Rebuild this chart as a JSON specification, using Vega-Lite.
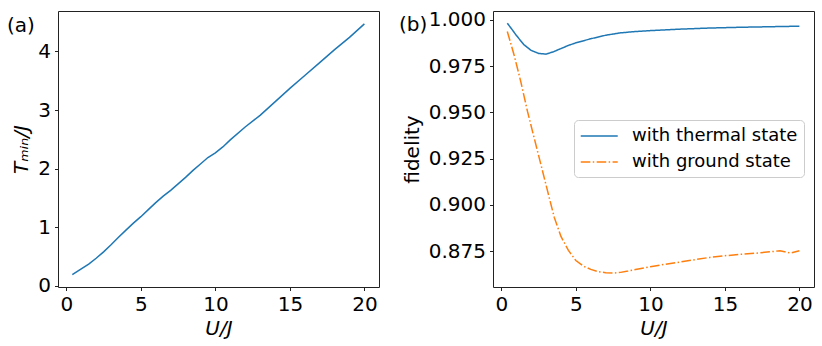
{
  "$schema": "https://vega.github.io/schema/vega-lite/v6.json",
  "padding": {"left": 6, "top": 9, "right": 5, "bottom": 5},
  "spacing": 18,
  "datasets": {
    "tmin": [
      {"U": 0.4, "T": 0.19}, {"U": 1.0, "T": 0.29}, {"U": 1.5, "T": 0.37}, {"U": 2.0, "T": 0.47},
      {"U": 2.5, "T": 0.58}, {"U": 3.0, "T": 0.70}, {"U": 3.5, "T": 0.83}, {"U": 4.0, "T": 0.95},
      {"U": 4.5, "T": 1.07}, {"U": 5.0, "T": 1.18}, {"U": 5.5, "T": 1.30}, {"U": 6.0, "T": 1.42},
      {"U": 6.5, "T": 1.53}, {"U": 7.0, "T": 1.63}, {"U": 7.5, "T": 1.74}, {"U": 8.0, "T": 1.85},
      {"U": 8.5, "T": 1.97}, {"U": 9.0, "T": 2.08}, {"U": 9.5, "T": 2.19}, {"U": 10.0, "T": 2.27},
      {"U": 10.5, "T": 2.37}, {"U": 11.0, "T": 2.49}, {"U": 12.0, "T": 2.71}, {"U": 13.0, "T": 2.91},
      {"U": 14.0, "T": 3.14}, {"U": 15.0, "T": 3.37}, {"U": 16.0, "T": 3.59}, {"U": 17.0, "T": 3.81},
      {"U": 18.0, "T": 4.03}, {"U": 19.0, "T": 4.24}, {"U": 20.0, "T": 4.47}
    ],
    "fid": [
      {"U": 0.4, "F": 0.9982, "s": "with thermal state"},
      {"U": 0.7, "F": 0.9950, "s": "with thermal state"},
      {"U": 1.0, "F": 0.9917, "s": "with thermal state"},
      {"U": 1.5, "F": 0.9867, "s": "with thermal state"},
      {"U": 2.0, "F": 0.9835, "s": "with thermal state"},
      {"U": 2.5, "F": 0.9819, "s": "with thermal state"},
      {"U": 3.0, "F": 0.9815, "s": "with thermal state"},
      {"U": 3.5, "F": 0.9828, "s": "with thermal state"},
      {"U": 4.0, "F": 0.9845, "s": "with thermal state"},
      {"U": 4.5, "F": 0.9862, "s": "with thermal state"},
      {"U": 5.0, "F": 0.9876, "s": "with thermal state"},
      {"U": 6.0, "F": 0.9898, "s": "with thermal state"},
      {"U": 7.0, "F": 0.9917, "s": "with thermal state"},
      {"U": 8.0, "F": 0.9930, "s": "with thermal state"},
      {"U": 9.0, "F": 0.9937, "s": "with thermal state"},
      {"U": 10.0, "F": 0.9942, "s": "with thermal state"},
      {"U": 12.0, "F": 0.9950, "s": "with thermal state"},
      {"U": 14.0, "F": 0.9956, "s": "with thermal state"},
      {"U": 16.0, "F": 0.9960, "s": "with thermal state"},
      {"U": 18.0, "F": 0.9963, "s": "with thermal state"},
      {"U": 20.0, "F": 0.9966, "s": "with thermal state"},
      {"U": 0.4, "F": 0.9937, "s": "with ground state"},
      {"U": 0.85, "F": 0.9812, "s": "with ground state"},
      {"U": 1.3, "F": 0.9668, "s": "with ground state"},
      {"U": 1.75, "F": 0.9507, "s": "with ground state"},
      {"U": 2.2, "F": 0.9363, "s": "with ground state"},
      {"U": 2.65, "F": 0.9220, "s": "with ground state"},
      {"U": 3.1, "F": 0.9076, "s": "with ground state"},
      {"U": 3.55, "F": 0.8933, "s": "with ground state"},
      {"U": 4.0, "F": 0.8830, "s": "with ground state"},
      {"U": 4.5, "F": 0.8755, "s": "with ground state"},
      {"U": 5.0, "F": 0.8700, "s": "with ground state"},
      {"U": 5.5, "F": 0.8670, "s": "with ground state"},
      {"U": 6.0, "F": 0.8652, "s": "with ground state"},
      {"U": 6.5, "F": 0.8640, "s": "with ground state"},
      {"U": 7.0, "F": 0.8634, "s": "with ground state"},
      {"U": 7.5, "F": 0.8632, "s": "with ground state"},
      {"U": 8.0, "F": 0.8636, "s": "with ground state"},
      {"U": 8.5, "F": 0.8643, "s": "with ground state"},
      {"U": 9.0, "F": 0.8651, "s": "with ground state"},
      {"U": 10.0, "F": 0.8666, "s": "with ground state"},
      {"U": 11.0, "F": 0.8680, "s": "with ground state"},
      {"U": 12.0, "F": 0.8692, "s": "with ground state"},
      {"U": 13.0, "F": 0.8705, "s": "with ground state"},
      {"U": 14.0, "F": 0.8717, "s": "with ground state"},
      {"U": 15.0, "F": 0.8726, "s": "with ground state"},
      {"U": 16.0, "F": 0.8733, "s": "with ground state"},
      {"U": 17.0, "F": 0.8739, "s": "with ground state"},
      {"U": 18.0, "F": 0.8747, "s": "with ground state"},
      {"U": 18.7, "F": 0.8753, "s": "with ground state"},
      {"U": 19.0, "F": 0.8748, "s": "with ground state"},
      {"U": 19.4, "F": 0.8740, "s": "with ground state"},
      {"U": 20.0, "F": 0.8753, "s": "with ground state"}
    ]
  },
  "hconcat": [
    {
      "width": 321,
      "height": 276,
      "title": {"text": "(a)", "anchor": "start", "frame": "group", "orient": "top", "offset": -25, "dx": -51},
      "data": {"name": "tmin"},
      "mark": {"type": "line", "color": "#1f77b4", "strokeWidth": 1.5},
      "encoding": {
        "x": {"field": "U", "type": "quantitative", "scale": {"domain": [-0.56, 20.98], "nice": false, "zero": false},
              "axis": {"values": [0, 5, 10, 15, 20], "title": "U/J", "titleFontStyle": "italic"}},
        "y": {"field": "T", "type": "quantitative", "scale": {"domain": [-0.02, 4.69], "nice": false, "zero": false},
              "axis": {"values": [0, 1, 2, 3, 4], "title": "Tₘᵢₙ/J", "titleFontStyle": "italic"}}
      }
    },
    {
      "width": 321,
      "height": 276,
      "title": {"text": "(b)", "anchor": "start", "frame": "group", "orient": "top", "offset": -25, "dx": -94},
      "data": {"name": "fid"},
      "mark": {"type": "line", "strokeWidth": 1.5},
      "encoding": {
        "x": {"field": "U", "type": "quantitative", "scale": {"domain": [-0.56, 20.98], "nice": false, "zero": false},
              "axis": {"values": [0, 5, 10, 15, 20], "title": "U/J", "titleFontStyle": "italic"}},
        "y": {"field": "F", "type": "quantitative", "scale": {"domain": [0.8557, 1.0048], "nice": false, "zero": false},
              "axis": {"values": [0.875, 0.9, 0.925, 0.95, 0.975, 1.0], "format": ".3f", "title": "fidelity"}},
        "color": {"field": "s", "type": "nominal", "sort": null,
                  "scale": {"domain": ["with thermal state", "with ground state"], "range": ["#1f77b4", "#ff7f0e"]},
                  "legend": {"title": null, "orient": "none", "legendX": 516, "legendY": 109}},
        "strokeDash": {"field": "s", "type": "nominal", "sort": null,
                  "scale": {"domain": ["with thermal state", "with ground state"], "range": [[1, 0], [9.6, 2.4, 1.5, 2.4]]},
                  "legend": {"title": null, "orient": "none", "legendX": 516, "legendY": 109}}
      }
    }
  ],
  "config": {
    "font": "DejaVu Sans",
    "view": {"stroke": "#222222", "strokeWidth": 1},
    "title": {"font": "DejaVu Sans", "fontSize": 20, "fontWeight": "normal", "color": "#000000"},
    "axis": {
      "grid": false,
      "domain": false,
      "labelFont": "DejaVu Sans",
      "labelFontSize": 20,
      "labelColor": "#000000",
      "labelPadding": 4,
      "tickSize": 3.5,
      "tickColor": "#222222",
      "tickWidth": 1,
      "titleFont": "DejaVu Sans",
      "titleFontSize": 20,
      "titleFontWeight": "normal",
      "titleColor": "#000000",
      "titlePadding": 4,
      "labelFlush": false,
      "labelOverlap": false
    },
    "axisY": {"titlePadding": 6},
    "legend": {
      "symbolType": "M-1,0H3",
      "symbolSize": 342,
      "symbolStrokeWidth": 1.5,
      "labelFont": "DejaVu Sans",
      "labelFontSize": 18,
      "labelColor": "#000000",
      "labelLimit": 400,
      "labelOffset": 32,
      "rowPadding": 7,
      "padding": 6,
      "fillColor": "#ffffff",
      "strokeColor": "#cccccc",
      "cornerRadius": 4
    }
  }
}
